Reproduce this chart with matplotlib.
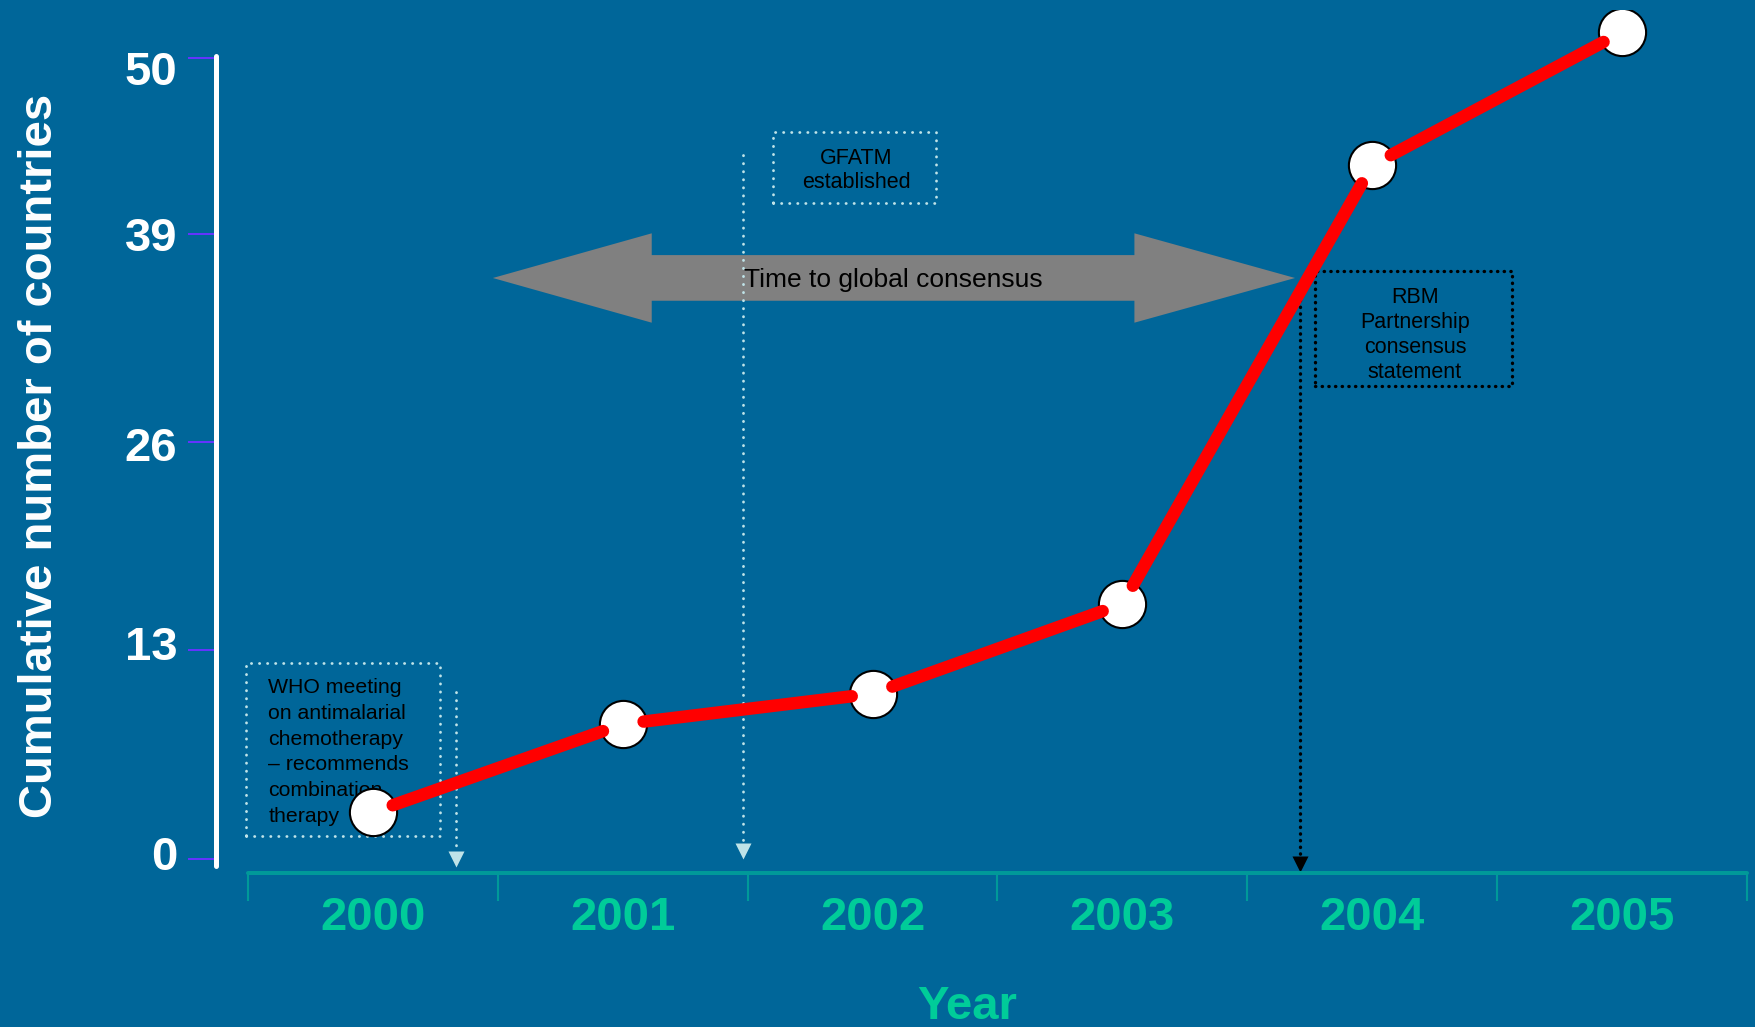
import numpy as np
import matplotlib.pyplot as plt
from matplotlib.patches import Rectangle, Polygon
from matplotlib.transforms import ScaledTranslation

plt.rcParams['font.family'] = ['Liberation Sans', 'DejaVu Sans']

years = ['2000', '2001', '2002', '2003', '2004', '2005']
countries = [2.9, 8.4, 10.3, 15.9, 43.3, 51.6]
yticks = [0, 13, 26, 39, 50]

bg = '#006699'
teal = '#009999'
green = '#00cc99'
pale = '#bfe3e8'

fig = plt.figure(figsize=(17.56, 10.27), dpi=100, facecolor=bg)
ax = fig.add_axes([248 / 1756, 1 - 872.7 / 1027, 1499 / 1756, 862.7 / 1027])
ax.set_facecolor(bg)
ax.set_xlim(-0.5, 5.5)
ax.set_ylim(-0.874, 52.98)

# axes styling
ax.spines[['top', 'right']].set_visible(False)
ax.spines['left'].set_position(('outward', 23))
ax.spines['left'].set_bounds(-0.45, 50.1)
ax.spines['left'].set_color('white')
ax.spines['left'].set_linewidth(3.6)
ax.spines['left'].set_capstyle('round')
ax.spines['bottom'].set_color(teal)
ax.spines['bottom'].set_linewidth(2.9)
ax.spines['bottom'].set_capstyle('round')

ax.set_yticks(yticks)
ax.set_yticklabels([str(t) for t in yticks], fontsize=34, fontweight='bold', color='white')
ax.tick_params(axis='y', length=20, width=1.4, color='#6633ff', pad=8)
# the number labels sit a little off their tick marks
nudge = [6, 7, -2, 0, -10]
for lbl, dy in zip(ax.get_yticklabels(), nudge):
    lbl.set_transform(lbl.get_transform() + ScaledTranslation(0, dy / 100, fig.dpi_scale_trans))

x = np.arange(len(years))
ax.set_xticks(x)
ax.set_xticklabels(years, fontsize=34, fontweight='bold', color=green)
ax.tick_params(axis='x', which='major', length=0, pad=17)
ax.set_xticks(np.arange(-0.5, len(years), 1), minor=True)
ax.tick_params(axis='x', which='minor', length=20, width=1.5, color=teal)

fig.text(52 / 1756, 1 - 456 / 1027, 'Cumulative number of countries', rotation=90,
         rotation_mode='anchor', ha='center', va='baseline', fontsize=34,
         fontweight='bold', color='white')
fig.text(967 / 1756, 1 - 1019 / 1027, 'Year', ha='center', va='baseline',
         fontsize=34, fontweight='bold', color=green)

# grey double arrow
arrow = [(0.48, 36.25), (1.116, 39.04), (1.116, 37.68), (3.048, 37.68), (3.048, 39.04),
         (3.691, 36.25), (3.048, 33.46), (3.048, 34.83), (1.116, 34.83), (1.116, 33.46)]
ax.add_patch(Polygon(arrow, closed=True, facecolor='#808080', edgecolor='none', zorder=1))

# dotted event markers
dot = (0, (0.1, 2.8))
ax.plot([0.333, 0.333], [10.4, 0.0], color=pale, lw=2, ls=dot, dash_capstyle='round',
        clip_on=False, zorder=2)
ax.plot([0.333], [-0.0], marker='v', ms=11, color=pale, mec='none', clip_on=False, zorder=2)
ax.plot([1.481, 1.481], [43.9, 0.5], color=pale, lw=2, ls=dot, dash_capstyle='round',
        clip_on=False, zorder=2)
ax.plot([1.481], [0.5], marker='v', ms=11, color=pale, mec='none', clip_on=False, zorder=2)
ax.plot([3.709, 3.709], [34.9, -0.3], color='black', lw=2.4, ls=(0, (0.1, 1.9)),
        dash_capstyle='round', clip_on=False, zorder=2)
ax.plot([3.709], [-0.35], marker='v', ms=11, color='black', mec='none', clip_on=False, zorder=2)

# annotation boxes
ax.add_patch(Rectangle((-0.509, 1.42), 0.7775, 10.78, fill=False, edgecolor=pale, lw=2,
                       ls=dot, capstyle='round', clip_on=False, zorder=2))
ax.add_patch(Rectangle((1.600, 40.95), 0.654, 4.39, fill=False, edgecolor=pale, lw=2,
                       ls=dot, capstyle='round', clip_on=False, zorder=2))
ax.add_patch(Rectangle((3.771, 29.53), 0.79, 7.17, fill=False, edgecolor='black', lw=2.4,
                       ls=(0, (0.1, 1.9)), capstyle='round', clip_on=False, zorder=2))

ax.text(-0.419, 6.66, 'WHO meeting\non antimalarial\nchemotherapy\n\u2013 recommends\ncombination\ntherapy',
        ha='left', va='center', fontsize=15.3, color='black', linespacing=1.45, zorder=3)
ax.text(1.934, 42.94, 'GFATM\nestablished', ha='center', va='center', fontsize=15.5,
        color='black', linespacing=1.2, zorder=3)
ax.text(4.171, 32.69, 'RBM\nPartnership\nconsensus\nstatement', ha='center', va='center',
        fontsize=15.5, color='black', linespacing=1.25, zorder=3)
ax.text(1.485, 36.1, 'Time to global consensus', ha='left', va='center', fontsize=19,
        color='black', zorder=3)

# data points and connecting segments
ax.plot(x, countries, 'o', ms=34, mfc='white', mec='black', mew=1.5, zorder=4)

gap = 21
pix = ax.transData.transform(np.column_stack([x, countries]))
inv = ax.transData.inverted()
for p0, p1 in zip(pix[:-1], pix[1:]):
    d = (p1 - p0) / np.hypot(*(p1 - p0))
    a, b = inv.transform([p0 + d * gap, p1 - d * gap])
    ax.plot([a[0], b[0]], [a[1], b[1]], color='#ff0000', lw=9,
            solid_capstyle='round', zorder=5)

fig.savefig('out.png', dpi=100, facecolor=bg)
